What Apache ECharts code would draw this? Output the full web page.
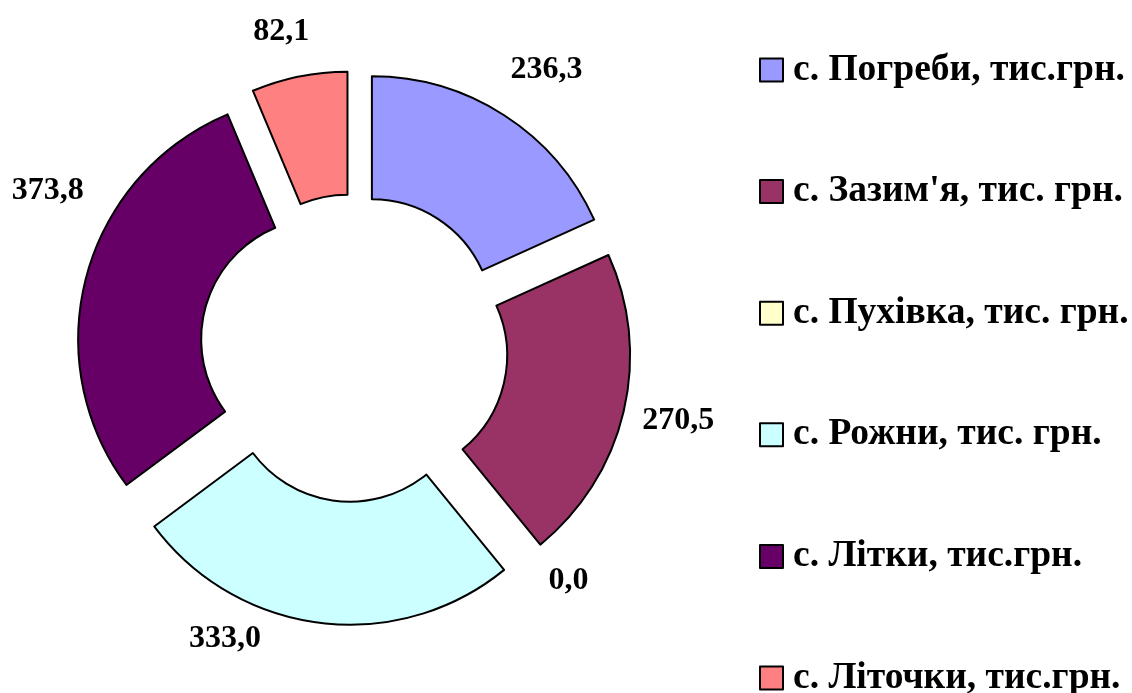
<!DOCTYPE html>
<html>
<head>
<meta charset="utf-8">
<script src="https://cdn.jsdelivr.net/npm/echarts@6/dist/echarts.min.js"></script>
<style>
html,body{margin:0;padding:0;background:#fff;}
#chart{width:1132px;height:693px;}
</style>
</head>
<body>
<div id="chart"></div>
<script>
const categories = [
  "с. Погреби, тис.грн.",
  "с. Зазим'я, тис. грн.",
  "с. Пухівка, тис. грн.",
  "с. Рожни, тис. грн.",
  "с. Літки, тис.грн.",
  "с. Літочки, тис.грн."
];
const values = [236.3, 270.5, 0.0, 333.0, 373.8, 82.1];
const colors = ["#9999FF", "#993366", "#FFFFCC", "#CCFFFF", "#660066", "#FF8080"];

// label nudges (text placement only)
const labelNudge = [[12, 2], [0, -3], [4, -25], [-88, -40], [15, -70], [-7, 10]];

const FONT = "'Liberation Serif', 'Times New Roman', serif";
const center = [354, 348];

const ringData = categories.map((name, i) => ({
  name: name,
  value: values[i],
  selected: true,
  itemStyle: {
    color: colors[i],
    borderColor: '#000',
    borderWidth: values[i] === 0 ? 0 : 2
  }
}));

const labelData = categories.map((name, i) => ({
  name: name,
  value: values[i],
  label: { offset: labelNudge[i] }
}));

const chart = echarts.init(document.getElementById('chart'));
chart.setOption({
  animation: false,
  backgroundColor: '#fff',
  color: colors,
  legend: {
    orient: 'vertical',
    left: 759,
    top: 50,
    height: 660,
    padding: 0,
    itemWidth: 23,
    itemHeight: 23,
    itemGap: 81.6,
    icon: 'rect',
    selectedMode: false,
    data: categories,
    itemStyle: { borderColor: '#000', borderWidth: 2 },
    textStyle: {
      fontFamily: FONT,
      fontWeight: 'bold',
      fontSize: 37.5,
      color: '#000',
      lineHeight: 40,
      padding: [0, 0, 0, 5]
    }
  },
  series: [
    {
      type: 'pie',
      center: center,
      radius: [121, 244],
      startAngle: 90,
      clockwise: true,
      selectedMode: 'multiple',
      selectedOffset: 33,
      silent: true,
      label: { show: false },
      labelLine: { show: false },
      emphasis: { disabled: true },
      data: ringData
    },
    {
      type: 'pie',
      center: center,
      radius: [310, 350],
      startAngle: 90,
      clockwise: true,
      silent: true,
      legendHoverLink: false,
      itemStyle: { color: 'transparent', borderWidth: 0 },
      emphasis: { disabled: true },
      labelLine: { show: false },
      label: {
        show: true,
        position: 'inside',
        fontFamily: FONT,
        fontWeight: 'bold',
        fontSize: 32,
        color: '#000',
        formatter: p => p.value.toFixed(1).replace('.', ',')
      },
      data: labelData
    }
  ]
});
</script>
</body>
</html>
